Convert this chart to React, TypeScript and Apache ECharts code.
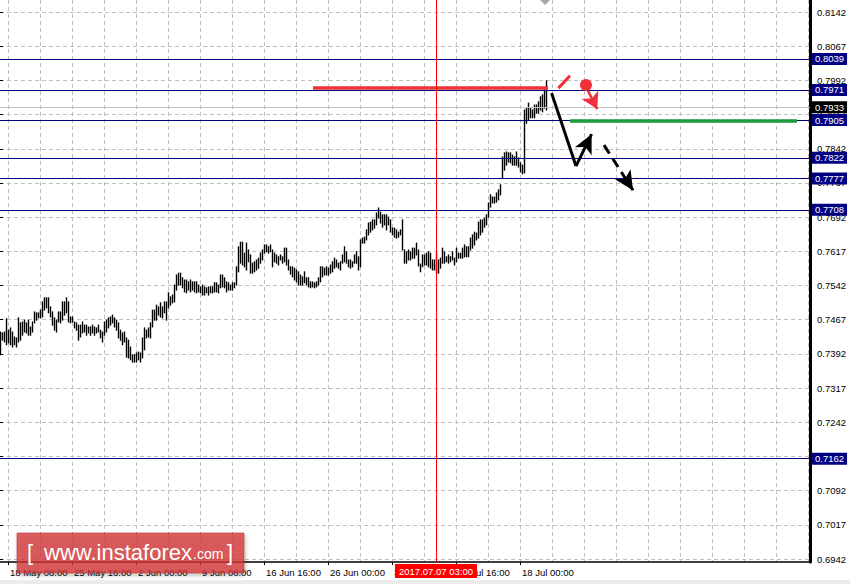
import React, { useEffect, useRef } from 'react';
import * as echarts from 'echarts';

// ---- axis scaffolding ----
const slotCount = 406; // bar slots across the plot (2px each)
const xTickLabels = ['18 May 08:00', '25 May 16:00', '2 Jun 00:00', '9 Jun 08:00', '16 Jun 16:00', '26 Jun 00:00', '3 Jul 08:00', '10 Jul 16:00', '18 Jul 00:00'];
const firstLabelSlot = 4;
const labelEvery = 32;
const gridEvery = 16;
const priceMin = 0.6942;
const priceMax = 0.8142;
const priceStep = 0.0075;

// ---- H4 bars (high / low) ----
const highs = [
  0.7440, 0.7438, 0.7440, 0.7469, 0.7444, 0.7449, 0.7440, 0.7429, 0.7427, 0.7471,
  0.7460, 0.7462, 0.7466, 0.7460, 0.7466, 0.7451, 0.7462, 0.7484, 0.7482, 0.7482,
  0.7488, 0.7506, 0.7515, 0.7515, 0.7515, 0.7495, 0.7484, 0.7471, 0.7466, 0.7484,
  0.7484, 0.7506, 0.7506, 0.7515, 0.7506, 0.7473, 0.7473, 0.7462, 0.7460, 0.7455,
  0.7455, 0.7462, 0.7455, 0.7455, 0.7451, 0.7451, 0.7455, 0.7451, 0.7449, 0.7455,
  0.7444, 0.7440, 0.7462, 0.7466, 0.7471, 0.7473, 0.7477, 0.7471, 0.7466, 0.7460,
  0.7444, 0.7438, 0.7440, 0.7427, 0.7422, 0.7407, 0.7390, 0.7390, 0.7394, 0.7396,
  0.7394, 0.7427, 0.7449, 0.7444, 0.7449, 0.7460, 0.7488, 0.7488, 0.7499, 0.7495,
  0.7504, 0.7495, 0.7506, 0.7506, 0.7526, 0.7517, 0.7521, 0.7543, 0.7565, 0.7569,
  0.7569, 0.7559, 0.7554, 0.7554, 0.7550, 0.7554, 0.7550, 0.7550, 0.7550, 0.7543,
  0.7539, 0.7543, 0.7539, 0.7537, 0.7539, 0.7539, 0.7539, 0.7548, 0.7548, 0.7543,
  0.7565, 0.7565, 0.7559, 0.7550, 0.7548, 0.7543, 0.7548, 0.7548, 0.7583, 0.7627,
  0.7637, 0.7637, 0.7613, 0.7635, 0.7620, 0.7609, 0.7591, 0.7594, 0.7598, 0.7602,
  0.7613, 0.7620, 0.7631, 0.7631, 0.7627, 0.7631, 0.7620, 0.7613, 0.7609, 0.7605,
  0.7609, 0.7605, 0.7624, 0.7624, 0.7598, 0.7583, 0.7583, 0.7580, 0.7576, 0.7572,
  0.7565, 0.7561, 0.7572, 0.7559, 0.7559, 0.7550, 0.7550, 0.7548, 0.7550, 0.7559,
  0.7583, 0.7583, 0.7580, 0.7583, 0.7580, 0.7587, 0.7594, 0.7602, 0.7598, 0.7591,
  0.7594, 0.7609, 0.7627, 0.7616, 0.7598, 0.7598, 0.7594, 0.7609, 0.7616, 0.7605,
  0.7642, 0.7646, 0.7648, 0.7664, 0.7679, 0.7681, 0.7686, 0.7686, 0.7701, 0.7712,
  0.7703, 0.7697, 0.7697, 0.7697, 0.7692, 0.7686, 0.7668, 0.7668, 0.7664, 0.7659,
  0.7664, 0.7686, 0.7620, 0.7616, 0.7620, 0.7616, 0.7624, 0.7624, 0.7635, 0.7620,
  0.7589, 0.7609, 0.7609, 0.7613, 0.7616, 0.7613, 0.7598, 0.7598, 0.7613, 0.7598,
  0.7602, 0.7624, 0.7616, 0.7605, 0.7609, 0.7605, 0.7616, 0.7602, 0.7624, 0.7613,
  0.7613, 0.7624, 0.7631, 0.7627, 0.7627, 0.7646, 0.7653, 0.7659, 0.7657, 0.7681,
  0.7686, 0.7686, 0.7690, 0.7697, 0.7723, 0.7741, 0.7736, 0.7736, 0.7745, 0.7752,
  0.7763, 0.7824, 0.7833, 0.7835, 0.7833, 0.7833, 0.7828, 0.7824, 0.7835, 0.7822,
  0.7811, 0.7806, 0.7927, 0.7931, 0.7942, 0.7931, 0.7927, 0.7938, 0.7938, 0.7945,
  0.7956, 0.7960, 0.7971, 0.7991,
];
const lows = [
  0.7390, 0.7422, 0.7418, 0.7412, 0.7416, 0.7412, 0.7407, 0.7412, 0.7407, 0.7418,
  0.7422, 0.7433, 0.7440, 0.7438, 0.7433, 0.7433, 0.7440, 0.7460, 0.7466, 0.7471,
  0.7471, 0.7473, 0.7488, 0.7493, 0.7482, 0.7473, 0.7455, 0.7444, 0.7440, 0.7462,
  0.7460, 0.7466, 0.7477, 0.7482, 0.7462, 0.7460, 0.7462, 0.7449, 0.7444, 0.7422,
  0.7429, 0.7438, 0.7440, 0.7433, 0.7438, 0.7433, 0.7438, 0.7433, 0.7438, 0.7440,
  0.7427, 0.7418, 0.7433, 0.7440, 0.7449, 0.7455, 0.7460, 0.7451, 0.7444, 0.7427,
  0.7422, 0.7412, 0.7418, 0.7385, 0.7383, 0.7379, 0.7374, 0.7374, 0.7374, 0.7379,
  0.7374, 0.7383, 0.7401, 0.7427, 0.7429, 0.7427, 0.7451, 0.7466, 0.7466, 0.7477,
  0.7473, 0.7471, 0.7482, 0.7466, 0.7493, 0.7499, 0.7504, 0.7506, 0.7532, 0.7543,
  0.7543, 0.7537, 0.7528, 0.7526, 0.7532, 0.7528, 0.7532, 0.7528, 0.7526, 0.7528,
  0.7526, 0.7521, 0.7521, 0.7526, 0.7521, 0.7526, 0.7526, 0.7528, 0.7528, 0.7526,
  0.7537, 0.7539, 0.7537, 0.7528, 0.7532, 0.7532, 0.7532, 0.7537, 0.7543, 0.7572,
  0.7591, 0.7587, 0.7583, 0.7576, 0.7594, 0.7569, 0.7569, 0.7572, 0.7576, 0.7580,
  0.7591, 0.7598, 0.7613, 0.7616, 0.7613, 0.7616, 0.7583, 0.7594, 0.7591, 0.7587,
  0.7598, 0.7591, 0.7594, 0.7587, 0.7576, 0.7567, 0.7561, 0.7554, 0.7550, 0.7543,
  0.7543, 0.7543, 0.7548, 0.7543, 0.7539, 0.7537, 0.7539, 0.7537, 0.7539, 0.7543,
  0.7550, 0.7561, 0.7565, 0.7565, 0.7565, 0.7569, 0.7572, 0.7580, 0.7583, 0.7580,
  0.7576, 0.7591, 0.7594, 0.7591, 0.7583, 0.7580, 0.7583, 0.7591, 0.7591, 0.7576,
  0.7583, 0.7635, 0.7635, 0.7642, 0.7653, 0.7659, 0.7664, 0.7668, 0.7675, 0.7690,
  0.7679, 0.7670, 0.7675, 0.7664, 0.7675, 0.7659, 0.7653, 0.7648, 0.7646, 0.7648,
  0.7653, 0.7620, 0.7591, 0.7591, 0.7598, 0.7598, 0.7602, 0.7602, 0.7609, 0.7585,
  0.7572, 0.7583, 0.7587, 0.7587, 0.7583, 0.7580, 0.7576, 0.7576, 0.7569, 0.7569,
  0.7580, 0.7591, 0.7591, 0.7594, 0.7591, 0.7594, 0.7598, 0.7587, 0.7594, 0.7602,
  0.7602, 0.7602, 0.7605, 0.7605, 0.7605, 0.7620, 0.7624, 0.7631, 0.7642, 0.7646,
  0.7653, 0.7659, 0.7670, 0.7675, 0.7692, 0.7714, 0.7723, 0.7723, 0.7725, 0.7730,
  0.7741, 0.7778, 0.7795, 0.7806, 0.7813, 0.7811, 0.7806, 0.7806, 0.7806, 0.7802,
  0.7791, 0.7787, 0.7789, 0.7898, 0.7905, 0.7910, 0.7910, 0.7910, 0.7920, 0.7920,
  0.7927, 0.7923, 0.7931, 0.7927,
];

// ---- levels ----
const levels = [0.8039, 0.7971, 0.7905, 0.7822, 0.7777, 0.7708, 0.7162];
const currentPrice = 0.7933;

// ---- annotations [slot, price] ----
const redLevel = [[156.5, 0.7975], [274, 0.7975]];
const redStroke = [[279.2, 0.7975], [285, 0.8002]];
const redDot = [293, 0.7982];
const redArrow = [[294, 0.7969], [298.6, 0.7929]];
const blackDown = [[275.8, 0.7964], [288, 0.7804]];
const blackUp = [[288, 0.7804], [295.8, 0.7874]];
const dashedDown = [[302, 0.7850], [316.5, 0.7751]];
const greenTarget = [[285, 0.7903], [398.5, 0.7903]];
const crossSlot = '218';
const crossLabel = '2017.07.07 03:00';

const FONT = '"Liberation Sans", Arial, sans-serif';

export default function App() {
  const ref = useRef<HTMLDivElement>(null);
  useEffect(() => {
    if (!ref.current) return;
    const chart = echarts.init(ref.current, null, { renderer: 'svg' });
    const slots = Array.from({ length: slotCount }, (_, i) => String(i));
    const isLabelSlot = (i: number) => i >= firstLabelSlot && (i - firstLabelSlot) % labelEvery === 0 && (i - firstLabelSlot) / labelEvery < xTickLabels.length;
    const isGridSlot = (i: number) => i >= firstLabelSlot && (i - firstLabelSlot) % gridEvery === 0;
    const bars = highs.map((h, i) => [i, lows[i], h]);

    const seg = (pts: number[][], color: string, width: number, extra: any = {}) => [
      { coord: pts[0], symbol: 'none' },
      { coord: pts[1], symbol: extra.arrow ? 'arrow' : 'none', symbolSize: extra.arrowSize || 10, lineStyle: { color, width, type: extra.dash || 'solid', cap: 'butt' }, itemStyle: { color } },
    ];

    const levelLabel = (bg: string, text: string) => ({
      show: true, position: 'end', distance: 2, formatter: text, color: '#fff', backgroundColor: bg,
      padding: [1, 3, 0, 3], lineHeight: 11, fontSize: 9.5, fontFamily: FONT,
    });

    const option: any = {
      animation: false,
      backgroundColor: '#ffffff',
      grid: [
        { left: 0, right: 40, top: 12, bottom: 25 },
        { left: 0, right: 40, top: 0, bottom: 22 },
      ],
      xAxis: [
        { type: 'value', gridIndex: 0, min: 0, max: slotCount - 1, show: false },
        {
          type: 'category', gridIndex: 1, data: slots, boundaryGap: false,
          axisLine: { onZero: false, lineStyle: { color: '#000', width: 1.5 } },
          axisTick: { interval: (i: number) => isLabelSlot(i), length: 3, lineStyle: { color: '#000' } },
          axisLabel: {
            interval: (i: number) => isLabelSlot(i),
            formatter: (_v: string, i: number) => xTickLabels[(i - firstLabelSlot) / labelEvery] || '',
            align: 'left', margin: 5, padding: [0, 0, 0, 2], color: '#000', fontSize: 9.5, fontFamily: FONT,
          },
          splitLine: { show: true, interval: (i: number) => isGridSlot(i), lineStyle: { color: '#c0c0c0', type: [4, 3], width: 1 } },
        },
      ],
      yAxis: [
        {
          type: 'value', gridIndex: 0, position: 'right', min: priceMin, max: priceMax, interval: priceStep,
          axisLine: { show: false },
          axisTick: { show: true, length: 3, lineStyle: { color: '#000' } },
          axisLabel: { margin: 7, formatter: (v: number) => v.toFixed(4), color: '#000', fontSize: 9.5, fontFamily: FONT },
          splitLine: { show: true, lineStyle: { color: '#c0c0c0', type: [4, 3], width: 1 } },
        },
        {
          type: 'value', gridIndex: 1, position: 'right', min: 0, max: 1,
          axisLine: { show: true, lineStyle: { color: '#000', width: 3 } },
          axisTick: { show: false }, axisLabel: { show: false }, splitLine: { show: false },
        },
      ],
      series: [
        {
          type: 'custom', name: 'bars', xAxisIndex: 0, yAxisIndex: 0, z: 3,
          dimensions: ['slot', 'low', 'high'], encode: { x: 0, y: [1, 2] },
          data: bars, silent: true,
          renderItem: (_p: any, api: any) => {
            const lo = api.coord([api.value(0), api.value(1)]);
            const hi = api.coord([api.value(0), api.value(2)]);
            const x = Math.round(lo[0]) + 0.5;
            return { type: 'line', shape: { x1: x, y1: lo[1] + 0.5, x2: x, y2: hi[1] - 0.5 }, style: { stroke: '#000', lineWidth: 1.4 } };
          },
        },
        {
          type: 'line', name: 'levels', xAxisIndex: 0, yAxisIndex: 0, data: [], z: 4,
          markLine: {
            silent: true, symbol: ['none', 'none'], animation: false, precision: 4,
            data: [
              { yAxis: currentPrice, lineStyle: { color: '#c0c0c0', width: 1, type: 'solid' }, label: levelLabel('#000', currentPrice.toFixed(4)) },
              ...levels.map((v) => ({ yAxis: v, lineStyle: { color: '#000080', width: 1, type: 'solid' }, label: levelLabel('#000080', v.toFixed(4)) })),
            ],
          },
        },
        {
          type: 'line', name: 'annotations', xAxisIndex: 0, yAxisIndex: 0, data: [], z: 6,
          markLine: {
            silent: true, symbol: ['none', 'none'], animation: false, precision: 4, label: { show: false },
            data: [
              seg(greenTarget, '#1f9a38', 3.5),
              seg(redLevel, '#f0303a', 3.5),
              seg(redStroke, '#f0303a', 3),
              seg(blackDown, '#000', 3),
              seg(blackUp, '#000', 3, { arrow: true, arrowSize: [14, 19] }),
              seg(dashedDown, '#000', 3, { arrow: true, arrowSize: [14, 19], dash: [10, 6] }),
              seg(redArrow, '#f0303a', 2.5, { arrow: true, arrowSize: [14, 16] }),
            ],
          },
          markPoint: {
            silent: true, animation: false, symbol: 'circle', symbolSize: 12, label: { show: false },
            itemStyle: { color: '#f0303a' },
            data: [{ coord: redDot }],
          },
        },
        {
          type: 'line', name: 'cross', xAxisIndex: 1, yAxisIndex: 1, data: [], z: 5,
          markLine: {
            silent: true, symbol: ['none', 'none'], animation: false,
            lineStyle: { color: '#ff0000', width: 1, type: 'solid' },
            label: {
              show: true, position: 'start', distance: 2, formatter: crossLabel, color: '#fff', backgroundColor: '#ff0000',
              padding: [2, 4, 1, 4], lineHeight: 11, fontSize: 9.5, fontFamily: FONT,
            },
            data: [{ xAxis: crossSlot }],
          },
        },
      ],
      graphic: [
        { type: 'rect', z: 100, shape: { x: 0, y: 580, width: 850, height: 4 }, style: { fill: '#ececec' } },
        { type: 'polygon', z: 100, shape: { points: [[540, 0], [550, 0], [545, 5]] }, style: { fill: '#a8a8a8' } },
        {
          type: 'group', z: 100,
          children: [
            {
              type: 'rect', z: 100, shape: { x: 17, y: 533, width: 227, height: 40 },
              style: { fill: 'rgba(214,52,52,0.75)', stroke: 'rgba(170,40,40,0.5)', lineWidth: 1, shadowBlur: 4, shadowColor: 'rgba(0,0,0,0.35)', shadowOffsetX: 1, shadowOffsetY: 2 },
            },
            { type: 'text', z: 101, x: 27, y: 552, style: { text: '[', fontSize: 22, fontFamily: FONT, fill: '#fff', align: 'left', verticalAlign: 'middle' } },
            { type: 'text', z: 101, x: 44, y: 552, style: { text: 'www.instaforex', fontSize: 22, fontFamily: FONT, fill: '#fff', align: 'left', verticalAlign: 'middle' } },
            { type: 'text', z: 101, x: 193, y: 554, style: { text: '.com', fontSize: 14, fontFamily: FONT, fill: '#fff', align: 'left', verticalAlign: 'middle' } },
            { type: 'text', z: 101, x: 227, y: 552, style: { text: ']', fontSize: 22, fontFamily: FONT, fill: '#fff', align: 'left', verticalAlign: 'middle' } },
          ],
        },
      ],
    };
    chart.setOption(option);
    return () => chart.dispose();
  }, []);
  return <div ref={ref} style={{ position: 'absolute', left: 0, top: 0, width: 850, height: 584 }} />;
}
